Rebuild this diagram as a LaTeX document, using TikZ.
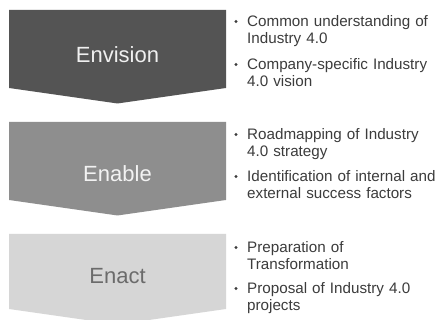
\documentclass[tikz,border=0pt]{standalone}
\usepackage{fontspec}
\setmainfont{Liberation Sans}
\definecolor{phaseA}{HTML}{545454}
\definecolor{phaseB}{HTML}{8E8E8E}
\definecolor{phaseC}{HTML}{D6D6D6}
\definecolor{bodytext}{HTML}{3C3C3C}
\begin{document}
\begin{tikzpicture}[x=1pt,y=-1pt,
  phase/.style={anchor=base, inner sep=0pt, font=\fontsize{22}{26}\selectfont},
  item/.style={anchor=base west, inner sep=0pt, text width=190pt, align=left,
               text=bodytext, font=\fontsize{15.2}{17}\selectfont},
  dot/.style={circle, fill=bodytext, inner sep=0pt, minimum size=3.2pt}]
\useasboundingbox (0,0) rectangle (437,320);
\clip (0,0) rectangle (437,320);
\fill[white] (0,0) rectangle (437,320);

% downward chevrons, one per phase
\fill[phaseA] (9,10) -- (226,10) -- (226,88) -- (117.5,103.5) -- (9,88) -- cycle;
\fill[phaseB] (9,122) -- (226,122) -- (226,200) -- (117.5,215.5) -- (9,200) -- cycle;
\fill[phaseC] (9,234) -- (226,234) -- (226,309) -- (117.5,324.5) -- (9,309) -- cycle;

% phase names
\node[phase, text=white!94!black] (envision) at (117.5,63) {Envision};
\node[phase, text=white!95!black] (enable) at (117.5,182) {Enable};
\node[phase, text=black!58] (enact) at (117.5,284) {Enact};

% Envision items
\node[dot] (d1) at (236,21.5) {};
\node[item] (t1) at (247,27) {Common understanding of\\Industry 4.0};
\node[dot] (d2) at (236,64.5) {};
\node[item] (t2) at (247,70) {Company-specific Industry\\4.0 vision};

% Enable items
\node[dot] (d3) at (236,134.5) {};
\node[item] (t3) at (247,140) {Roadmapping of Industry\\4.0 strategy};
\node[dot] (d4) at (236,176.5) {};
\node[item] (t4) at (247,182) {Identification of internal and\\external success factors};

% Enact items
\node[dot] (d5) at (236,247.5) {};
\node[item] (t5) at (247,253) {Preparation of\\Transformation};
\node[dot] (d6) at (236,288.5) {};
\node[item] (t6) at (247,294) {Proposal of Industry 4.0\\projects};
\end{tikzpicture}
\end{document}
